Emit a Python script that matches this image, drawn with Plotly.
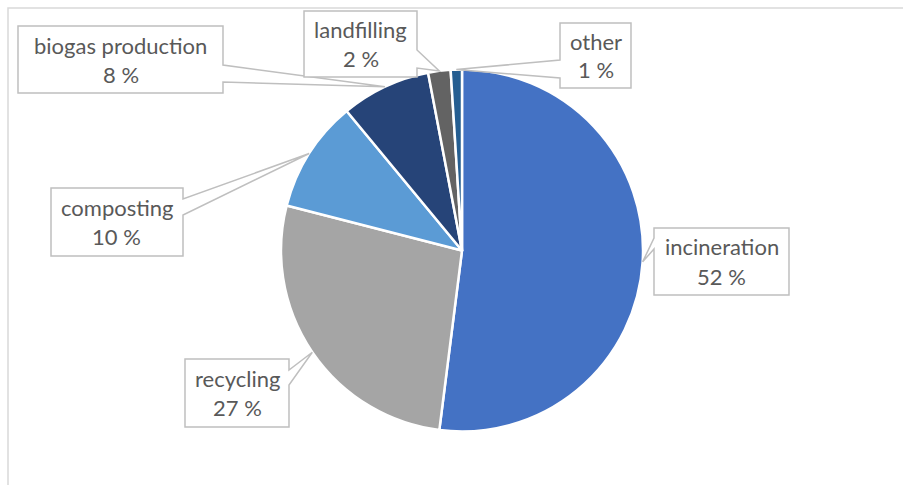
import math
import plotly.graph_objects as go

# Treatment routes and their shares (%)
categories = ["incineration", "recycling", "composting", "biogas production", "landfilling", "other"]
shares = [52, 27, 10, 8, 2, 1]
colors = ["#4472C4", "#A5A5A5", "#5B9BD5", "#264478", "#636363", "#255E91"]

W, H = 903, 485
CX, CY, R = 462, 250.5, 181  # pie centre and radius in px

# Callout boxes (px): x0, y0, x1, y1, side of pointer, pointer base offsets
callouts = {
    "incineration":      (654, 228, 789, 295, "left", 238, 249),
    "recycling":         (185, 359, 289, 427, "right", 370, 385),
    "composting":        (51, 188, 183, 256, "right", 199, 215),
    "biogas production": (18, 26, 223, 93, "right", 65, 82),
    "landfilling":       (304, 11, 417, 77, "right", 50, 68),
    "other":             (560, 23, 631, 88, "left", 60, 78),
}


def px(x):
    return x / W


def py(y):
    return 1 - y / H


fig = go.Figure(go.Pie(
    labels=categories,
    values=shares,
    sort=False,
    direction="clockwise",
    rotation=0,
    marker=dict(colors=colors, line=dict(color="white", width=2.5)),
    textinfo="none",
    hoverinfo="label+percent",
    showlegend=False,
    domain=dict(x=[px(CX - R), px(CX + R)], y=[py(CY + R), py(CY - R)]),
))

shapes = [
    # chart frame
    dict(type="rect", xref="paper", yref="paper",
         x0=px(8), y0=py(8), x1=px(W + 20), y1=py(H + 20),
         line=dict(color="#D9D9D9", width=1.5), fillcolor="rgba(0,0,0,0)", layer="below"),
]
annotations = []

total = sum(shares)
cum = 0
for name, val in zip(categories, shares):
    mid = (cum + val / 2) / total * 2 * math.pi
    cum += val
    tx = CX + R * math.sin(mid)
    ty = CY - R * math.cos(mid)
    x0, y0, x1, y1, side, b1, b2 = callouts[name]
    if side == "right":
        pts = [(x0, y0), (x1, y0), (x1, b1), (tx, ty), (x1, b2), (x1, y1), (x0, y1)]
    else:
        pts = [(x0, y0), (x1, y0), (x1, y1), (x0, y1), (x0, b2), (tx, ty), (x0, b1)]
    path = "M " + " L ".join(f"{px(x):.5f},{py(y):.5f}" for x, y in pts) + " Z"
    shapes.append(dict(type="path", xref="paper", yref="paper", path=path,
                       line=dict(color="#BFBFBF", width=1.5), fillcolor="white"))
    cxb = (x0 + x1) / 2
    cyb = (y0 + y1) / 2
    for text, dy in ((name, -14.5), (f"{val} %", 14.5)):
        annotations.append(dict(
            x=px(cxb), y=py(cyb + dy), xref="paper", yref="paper",
            text=text, showarrow=False, xanchor="center", yanchor="middle",
            font=dict(family="Lato, Carlito, Calibri, sans-serif", size=22, color="#595959"),
        ))

fig.update_layout(
    width=W, height=H,
    margin=dict(l=0, r=0, t=0, b=0),
    paper_bgcolor="white",
    plot_bgcolor="white",
    shapes=shapes,
    annotations=annotations,
)

fig.write_html("out.html")
